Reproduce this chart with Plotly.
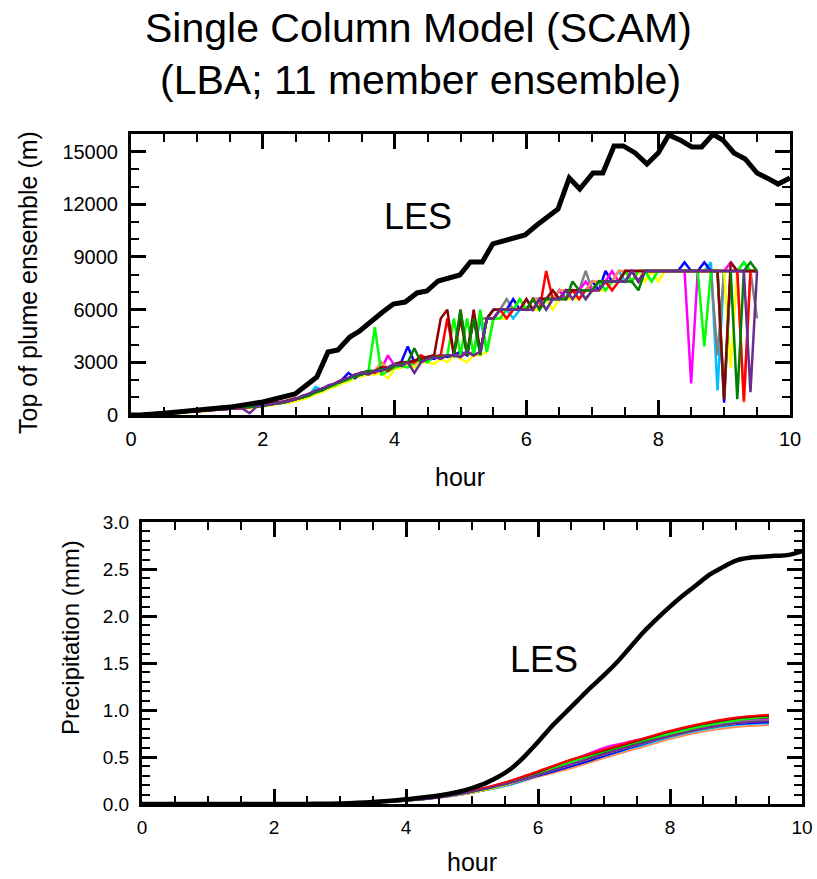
import plotly.graph_objects as go

# ---------------- data ----------------
# Top panel: LES top of plume (m)
LES_TOP_HOURS = [0.0, 0.14, 0.5, 1.0, 1.5, 2.0, 2.49, 2.82, 2.99, 3.14, 3.32, 3.47, 3.66, 3.82,
                 3.98, 4.16, 4.34, 4.49, 4.66, 4.99, 5.15, 5.33, 5.49, 5.98, 6.16, 6.48, 6.65,
                 6.81, 7.01, 7.16, 7.33, 7.47, 7.65, 7.83, 8.0, 8.16, 8.33, 8.51, 8.66, 8.83,
                 8.98, 9.15, 9.32, 9.5, 9.65, 9.82, 10.0]
LES_TOP = [0, 0, 100, 280, 450, 740, 1200, 2160, 3590, 3700, 4440, 4780, 5410, 5860,
           6320, 6430, 6950, 7060, 7630, 7970, 8710, 8710, 9740, 10250, 10820, 11730, 13500,
           12870, 13780, 13780, 15320, 15320, 14920, 14290, 14920, 15950, 15660, 15260, 15260, 15980,
           15660, 14920, 14580, 13780, 13500, 13150, 13500]

# Ensemble time axis (hours, 0.0 .. 9.5 every 0.1 h)
ENS_TOP_HOURS = [round(i * 0.1, 1) for i in range(96)]

ENS_TOP = {
    "cyan": [0,0,50,50,50,100,100,150,150,200, 200,250,300,300,350,350,400,400,450,500,
             500,600,650,700,800,900,1000,1100,1600,1400, 1500,1700,1900,2000,2200,2400,2300,2500,2500,2700,
             2800,2700,3000,3000,3200,3000,3300,3400,3400,3300, 3400,3600,3400,5500,3600,5500,6000,6000,5500,6000,
             6000,6000,6600,6600,6600,6600,7100,6600,7100,7100, 7100,7600,7600,7600,8200,7600,8200,8200,8200,8200,
             8200,8200,8200,8200,8200,8200,8200,8200,8700,1400, 8200,8200,8200,8700,8200,8200],
    "gray": [0,0,50,50,50,100,100,150,200,200, 250,250,300,300,350,350,400,400,450,500,
             550,600,700,750,800,900,1000,1100,1300,1400, 1600,1800,1900,2100,2200,2400,2500,2400,2600,2700,
             2900,3000,2900,3000,3200,3300,3400,3300,3400,3400, 3600,3400,3600,5500,5500,6000,6000,6600,6000,6000,
             6000,6600,6600,6600,6600,6600,7100,7100,7100,8200, 7100,7100,7600,7600,7600,8200,7600,8200,8200,8200,
             8200,8200,8200,8200,8200,8200,8200,8200,8200,3400, 8200,8200,8200,8200,8200,5500],
    "yellow": [0,0,0,50,50,50,100,100,150,150, 200,200,250,300,300,350,350,400,400,450,
               500,550,600,700,700,800,900,1000,1200,1300, 1500,1600,1800,1900,2100,2200,2300,2300,2400,2100,
               2600,2700,2900,2700,3000,3000,2900,3200,3000,3400, 3200,3000,3400,3400,3600,5500,5500,5500,6000,6000,
               6000,6000,6000,6600,6000,6600,6600,6600,6600,7100, 7100,7100,7100,7600,7600,7600,7600,8200,7600,8200,
               7600,8200,8200,8200,8200,8200,8200,8200,8200,8200, 8200,2700,8200,8200,8200,8200],
    "blue": [0,0,50,50,100,100,100,150,200,200, 250,250,300,300,350,400,400,450,450,500,
             550,600,650,700,800,900,1000,1200,1300,1400, 1600,1800,2000,2400,2100,2400,2500,2500,2600,2700,
             2900,3000,3900,3000,3200,3300,3200,3400,3300,3400, 3600,3400,5500,3600,5500,6000,6000,6000,6600,6000,
             6000,6600,6600,6600,6600,7100,6600,7100,7100,7100, 7600,7100,8200,7600,7600,8200,8200,7600,8200,8200,
             8200,8200,8200,8200,8700,8200,8200,8700,8200,8200, 700,8200,8200,8200,8200,8200],
    "magenta": [0,0,0,50,50,100,100,150,150,200, 200,250,300,300,350,400,400,450,450,500,
                550,600,650,700,800,900,1000,1200,1300,1500, 1600,1800,2000,2100,2300,2400,2400,2500,2600,3400,
                2800,2900,3000,3000,3100,3200,3300,3400,3400,3400, 3400,3600,3400,3600,5500,5500,6000,6000,6000,6000,
                6600,6000,6600,6600,6600,7100,6600,7100,7100,7600, 7100,7600,7600,8200,7600,8200,8200,8200,8200,8200,
                8200,8200,8200,8200,8200,1800,8200,8200,8200,8200, 8200,8700,8200,8200,8200,8200],
    "orange": [0,0,50,50,100,100,150,150,200,200, 250,250,300,300,350,400,400,450,450,500,
               550,650,700,750,800,900,1000,1100,1300,1400, 1600,1700,1900,2100,2200,2300,2400,2500,3000,2600,
               2800,2900,3000,2900,3200,3300,3400,3300,3400,3400, 3300,3600,3400,3600,5500,5500,6000,6000,6000,6600,
               6000,6600,6600,6600,6600,7100,7100,7100,7100,7100, 7600,7600,7600,7600,8200,8200,7600,8200,8200,8200,
               8200,8200,8200,8200,8200,8200,8200,8200,8200,8200, 8200,8200,8200,700,8200,8200],
    "lime": [0,0,0,50,50,100,100,100,150,200, 250,250,300,300,350,350,400,400,450,500,
             500,600,650,700,800,900,1000,1100,1300,1500, 1600,1700,1900,2000,2200,2300,2400,5000,2300,2500,
             2700,2800,2700,3000,3200,3000,3400,3300,3400,5500, 3400,5500,3400,6000,3600,5500,5500,6000,6000,6600,
             6000,6000,6600,6000,6600,6600,6600,7100,7100,6600, 7100,7600,7100,7600,7600,8200,7600,8200,8200,7600,
             8200,8200,8200,8200,8200,8200,8200,3900,8200,8200, 1000,8200,8200,8700,8200,8200],
    "red": [0,0,50,50,50,100,100,150,150,200, 200,250,250,300,300,350,350,400,450,500,
            550,600,700,700,800,900,1000,1200,1300,1500, 1600,1800,1900,2100,2300,2300,2500,2400,2700,2500,
            2800,2900,3000,3000,3400,3200,3300,3400,5500,3400, 6000,3400,5500,3600,5500,5500,6000,5500,6000,6000,
            6000,6600,6000,8200,6600,6600,6600,7100,6600,7100, 7100,7100,7600,7100,7600,7600,8200,7600,8200,8200,
            8200,8200,8200,8200,8200,8200,8200,8200,8200,8200, 8200,8200,8200,800,8200,8200],
    "darkred": [0,0,50,50,100,100,100,150,200,200, 250,300,300,350,350,400,400,450,500,500,
                550,650,700,750,850,950,1000,1200,1300,1500, 1600,1800,2000,2100,2300,2400,2400,2500,2700,2700,
                2900,3000,3000,3100,3200,3300,3400,5500,6000,3400, 5500,3400,6000,3600,5500,6000,6000,6000,6000,6000,
                6600,6000,6600,6600,7100,6600,7100,7100,7100,7100, 7100,7600,7600,7600,7600,8200,8200,8200,8200,8200,
                8200,8200,8200,8200,8200,8200,8200,8200,8200,8200, 900,8700,8200,8200,8200,8200],
    "darkgreen": [0,0,0,50,50,100,100,150,150,200, 250,250,300,300,350,350,400,450,450,500,
                  500,600,650,700,800,900,1000,1100,1300,1400, 1600,1800,1900,2100,2200,2300,2500,2500,2600,2600,
                  2800,2900,3000,3800,3000,3200,3300,3300,3400,3400, 6000,3400,5500,3400,5500,5500,6000,6000,6000,6000,
                  6000,6600,6000,6600,6600,6600,6600,7600,7100,7100, 7100,7600,7600,7600,7600,7600,7600,7100,8200,8200,
                  8200,8200,8200,8200,8200,8200,8200,8200,8200,8200, 8200,8200,900,8200,8700,8200],
    "purple": [0,0,0,50,50,50,100,100,150,200, 200,250,250,300,300,350,400,350,100,450,
               550,600,650,750,800,900,1100,1200,1400,1500, 1700,1800,2000,2100,2300,2400,2300,2500,2500,2700,
               2900,2800,3000,2400,3000,3200,3300,3200,3400,3400, 3300,3600,3400,3600,5500,5500,6000,6000,6000,6000,
               6000,6000,6600,6000,6600,6600,7100,6600,7100,6600, 7100,7100,7600,7600,7600,7600,8200,7600,8200,8200,
               8200,8200,8200,8200,8200,8200,8200,8200,8200,8200, 8200,8200,8200,8200,1300,8200],
}

# Bottom panel: precipitation (mm)
LES_PR_HOURS = [0, 1, 2, 2.5, 3.0, 3.5, 4.0, 4.5, 4.8, 5.0, 5.2, 5.4, 5.6, 5.8, 6.0, 6.2, 6.4,
                6.6, 6.8, 7.0, 7.2, 7.4, 7.6, 7.8, 8.0, 8.2, 8.4, 8.6, 8.8, 9.0, 9.2, 9.4,
                9.6, 9.8, 10.0]
LES_PR = [0, 0, 0, 0.001, 0.005, 0.02, 0.05, 0.09, 0.13, 0.17, 0.22, 0.29, 0.38, 0.51, 0.66,
          0.82, 0.96, 1.10, 1.24, 1.37, 1.51, 1.67, 1.83, 1.97, 2.10, 2.22, 2.33, 2.44, 2.52,
          2.59, 2.62, 2.63, 2.64, 2.65, 2.69]

ENS_PR_HOURS = [0, 1, 2, 2.5, 3, 3.5, 4, 4.5, 5, 5.5, 6, 6.5, 7, 7.5, 8, 8.5, 9, 9.5]
ENS_PR = {
    "orange":    [0, 0, 0, 0.001, 0.005, 0.014, 0.033, 0.066, 0.12, 0.19, 0.29, 0.38, 0.49, 0.59, 0.69, 0.77, 0.82, 0.84],
    "cyan":      [0, 0, 0, 0.001, 0.005, 0.014, 0.034, 0.068, 0.12, 0.19, 0.30, 0.40, 0.51, 0.61, 0.71, 0.79, 0.84, 0.86],
    "blue":      [0, 0, 0, 0.001, 0.005, 0.015, 0.034, 0.069, 0.12, 0.20, 0.30, 0.40, 0.51, 0.62, 0.72, 0.80, 0.85, 0.87],
    "yellow":    [0, 0, 0, 0.001, 0.005, 0.015, 0.035, 0.070, 0.12, 0.20, 0.31, 0.42, 0.53, 0.63, 0.72, 0.80, 0.86, 0.89],
    "gray":      [0, 0, 0, 0.001, 0.005, 0.015, 0.035, 0.071, 0.13, 0.21, 0.32, 0.43, 0.54, 0.64, 0.73, 0.81, 0.87, 0.90],
    "magenta":   [0, 0, 0, 0.001, 0.005, 0.016, 0.036, 0.072, 0.13, 0.22, 0.34, 0.46, 0.60, 0.68, 0.76, 0.83, 0.89, 0.91],
    "darkgreen": [0, 0, 0, 0.001, 0.005, 0.016, 0.036, 0.073, 0.13, 0.22, 0.33, 0.45, 0.55, 0.65, 0.75, 0.83, 0.89, 0.92],
    "lime":      [0, 0, 0, 0.001, 0.005, 0.016, 0.037, 0.074, 0.13, 0.21, 0.33, 0.45, 0.56, 0.66, 0.75, 0.83, 0.89, 0.93],
    "darkred":   [0, 0, 0, 0.001, 0.005, 0.016, 0.038, 0.075, 0.14, 0.23, 0.34, 0.47, 0.57, 0.67, 0.77, 0.85, 0.91, 0.94],
    "red":       [0, 0, 0, 0.001, 0.005, 0.016, 0.038, 0.076, 0.14, 0.23, 0.35, 0.47, 0.58, 0.68, 0.78, 0.86, 0.92, 0.95],
    "purple":    [0, 0, 0, 0.001, 0.005, 0.015, 0.035, 0.070, 0.13, 0.21, 0.31, 0.42, 0.53, 0.63, 0.72, 0.80, 0.86, 0.88],
}

COLORS = {
    "red": "#FF0000", "lime": "#00FF00", "blue": "#0000FF", "yellow": "#FFFF00",
    "cyan": "#00BFFF", "magenta": "#FF00FF", "gray": "#808080", "orange": "#FF8C55",
    "darkred": "#8B0000", "darkgreen": "#008000", "purple": "#6A2C91",
}

TITLE1 = "Single Column Model (SCAM)"
TITLE2 = "(LBA; 11 member ensemble)"
FONT = "Liberation Sans, Arial, Helvetica, sans-serif"

W, H = 817, 879

def px(x):
    return x / W

def py(y):
    return 1 - y / H

fig = go.Figure()

for name, vals in ENS_TOP.items():
    fig.add_trace(go.Scatter(x=ENS_TOP_HOURS, y=vals, mode="lines", xaxis="x", yaxis="y",
                             line=dict(color=COLORS[name], width=2.5), showlegend=False,
                             name=name))
fig.add_trace(go.Scatter(x=LES_TOP_HOURS, y=LES_TOP, mode="lines", xaxis="x", yaxis="y",
                         line=dict(color="black", width=5), showlegend=False, name="LES"))

for name, vals in ENS_PR.items():
    fig.add_trace(go.Scatter(x=ENS_PR_HOURS, y=vals, mode="lines", xaxis="x2", yaxis="y2",
                             line=dict(color=COLORS[name], width=2, shape="spline"),
                             showlegend=False, name=name))
fig.add_trace(go.Scatter(x=LES_PR_HOURS, y=LES_PR, mode="lines", xaxis="x2", yaxis="y2",
                         line=dict(color="black", width=4.5, shape="spline"), showlegend=False,
                         name="LES"))

def axis(domain, rng, dtick, minor_dtick, fsize, anchor, fmt):
    return dict(domain=domain, range=rng, dtick=dtick, tick0=0, anchor=anchor,
                automargin=False, tickformat=fmt,
                showline=True, linewidth=3, linecolor="black", mirror="ticks",
                ticks="inside", ticklen=15, tickwidth=3, tickcolor="black",
                showgrid=False, zeroline=False, fixedrange=True,
                tickfont=dict(family=FONT, size=fsize, color="black"),
                minor=dict(ticks="inside", ticklen=8, tickwidth=2, tickcolor="black",
                           dtick=minor_dtick, tick0=0, showgrid=False))

top_x = [px(131), px(790)]
top_y = [py(415), py(134)]
bot_x = [px(142), px(802)]
bot_y = [py(804), py(522)]

fig.update_layout(
    template="none",
    width=W, height=H, margin=dict(l=0, r=0, t=0, b=0, pad=0),
    paper_bgcolor="white", plot_bgcolor="white",
    xaxis=axis(top_x, [0, 10], 2, 0.5, 20, "y", "d"),
    yaxis=axis(top_y, [0, 16000], 3000, 1000, 20, "x", "d"),
    xaxis2=axis(bot_x, [0, 10], 2, 0.5, 19, "y2", "d"),
    yaxis2=axis(bot_y, [0, 3], 0.5, 0.1, 19, "x2", ".1f"),
)
fig.layout.xaxis.ticklabelstandoff = 4
fig.layout.xaxis2.ticklabelstandoff = 4
fig.layout.yaxis.ticklabelstandoff = 6
fig.layout.yaxis2.ticklabelstandoff = 6

ann = []
ann.append(dict(text=TITLE1, x=px(418), y=py(28), xref="paper", yref="paper",
                showarrow=False, xanchor="center", yanchor="middle",
                font=dict(family=FONT, size=41, color="black")))
ann.append(dict(text=TITLE2, x=px(420), y=py(80), xref="paper", yref="paper",
                showarrow=False, xanchor="center", yanchor="middle",
                font=dict(family=FONT, size=41, color="black")))
ann.append(dict(text="Top of plume ensemble (m)", x=px(28), y=py(283), xref="paper", yref="paper",
                showarrow=False, textangle=-90, xanchor="center", yanchor="middle",
                font=dict(family=FONT, size=25, color="black")))
ann.append(dict(text="hour", x=px(460), y=py(477), xref="paper", yref="paper",
                showarrow=False, xanchor="center", yanchor="middle",
                font=dict(family=FONT, size=25, color="black")))
ann.append(dict(text="Precipitation (mm)", x=px(70), y=py(638), xref="paper", yref="paper",
                showarrow=False, textangle=-90, xanchor="center", yanchor="middle",
                font=dict(family=FONT, size=24, color="black")))
ann.append(dict(text="hour", x=px(472), y=py(862), xref="paper", yref="paper",
                showarrow=False, xanchor="center", yanchor="middle",
                font=dict(family=FONT, size=25, color="black")))
ann.append(dict(text="LES", x=4.36, y=11290, xref="x", yref="y", showarrow=False,
                xanchor="center", yanchor="middle",
                font=dict(family=FONT, size=36, color="black")))
ann.append(dict(text="LES", x=6.09, y=1.535, xref="x2", yref="y2", showarrow=False,
                xanchor="center", yanchor="middle",
                font=dict(family=FONT, size=36, color="black")))
fig.update_layout(annotations=ann)

fig.write_html("out.html", config={"displayModeBar": False},
               post_script="document.body.style.margin='0';document.body.style.padding='0';"
                           "document.body.style.overflow='hidden';")
